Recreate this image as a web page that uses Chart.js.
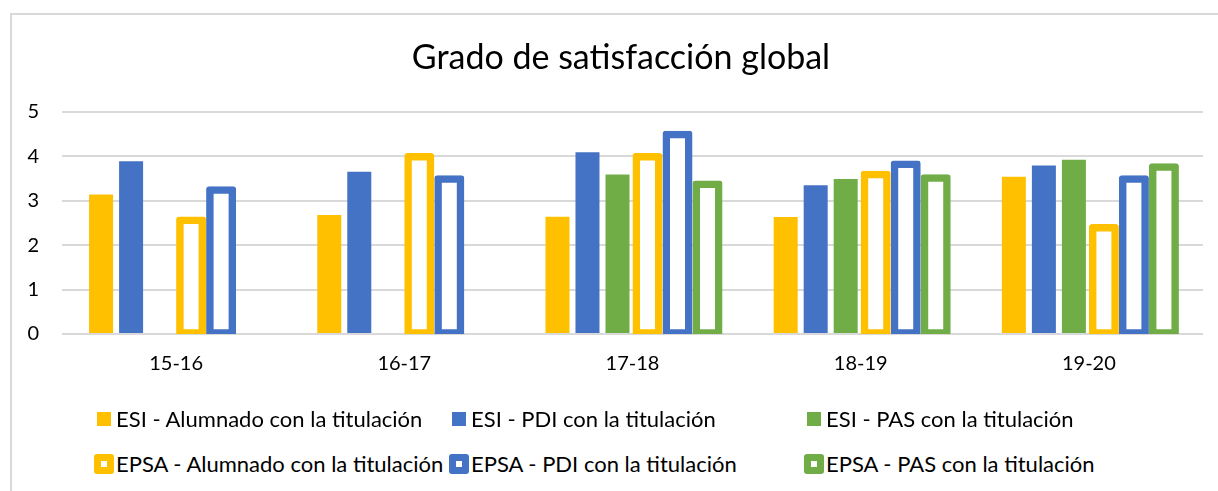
<!DOCTYPE html>
<html>
<head>
<meta charset="utf-8">
<script src="https://cdn.jsdelivr.net/npm/chart.js@4"></script>
<style>
  body { margin: 0; background: #fff; font-family: Lato, sans-serif; overflow: hidden; }
  #frame { position: absolute; left: 10px; top: 13px; width: 1230px; height: 500px;
           border-left: 2px solid #d9d9d9; border-top: 2px solid #d9d9d9; }
  #Grafico { position: absolute; left: 0; top: 0; }
  #leyenda { position: absolute; left: 93px; top: 405px; width: 1100px; }
  .item { position: absolute; display: flex; align-items: center; font-size: 22px; color: #000; white-space: nowrap; }
  .marca { width: 21px; height: 21px; display: flex; align-items: center; justify-content: center; margin-right: 2px; }
</style>
</head>
<body>
<div id="frame"></div>
<canvas id="Grafico" width="1242" height="408"></canvas>
<div id="leyenda"></div>
<script>
// datos
const cursos = ["15-16", "16-17", "17-18", "18-19", "19-20"];
const esiAlumnado = [3.14, 2.68, 2.64, 2.63, 3.54];
const esiPdi = [3.89, 3.65, 4.09, 3.35, 3.79];
const esiPas = [null, null, 3.59, 3.49, 3.92];
const epsaAlumnado = [2.56, 3.99, 3.99, 3.59, 2.39];
const epsaPdi = [3.24, 3.49, 4.49, 3.82, 3.49];
const epsaPas = [null, null, 3.37, 3.51, 3.76];
const escalaY = [0, 1, 2, 3, 4, 5];

const amarillo = "#FFC000", azul = "#4472C4", verde = "#70AD47";

function relleno(label, data, color) {
  return { label: label, data: data, backgroundColor: color, barPercentage: 0.8 };
}
function contorno(label, data, color) {
  return { label: label, data: data, backgroundColor: "#fff", borderColor: color,
           borderWidth: 7.5, inflateAmount: 3.75, borderRadius: 3, borderSkipped: false,
           barPercentage: 0.75, hueco: true };
}

const datasets = [
  relleno("ESI - Alumnado con la titulación", esiAlumnado, amarillo),
  relleno("ESI - PDI con la titulación", esiPdi, azul),
  relleno("ESI - PAS con la titulación", esiPas, verde),
  contorno("EPSA - Alumnado con la titulación", epsaAlumnado, amarillo),
  contorno("EPSA - PDI con la titulación", epsaPdi, azul),
  contorno("EPSA - PAS con la titulación", epsaPas, verde)
];

let canva = document.getElementById("Grafico").getContext("2d");
var chart = new Chart(canva, {
  type: "bar",
  data: { labels: cursos, datasets: datasets },
  options: {
    responsive: false,
    animation: false,
    layout: { padding: { left: 0, right: 0, top: 0, bottom: 14 } },
    datasets: { bar: { categoryPercentage: 0.789 } },
    plugins: {
      legend: { display: false },
      tooltip: { enabled: false },
      title: {
        display: true,
        text: "Grado de satisfacción global",
        color: "#000",
        font: { family: "Lato", size: 34, weight: "normal" },
        padding: { top: 38, bottom: 33 }
      }
    },
    scales: {
      x: {
        grid: { display: false, drawTicks: false },
        border: { display: false },
        ticks: { color: "#000", padding: 18, font: { family: "Lato", size: 20 } }
      },
      y: {
        min: escalaY[0],
        max: escalaY[escalaY.length - 1],
        afterFit: function (scale) { scale.width = 62; },
        afterBuildTicks: function (scale) { scale.ticks = escalaY.map(v => ({ value: v })); },
        grid: { color: "#d9d9d9", lineWidth: 2, drawTicks: false },
        border: { display: false },
        ticks: { color: "#000", padding: 23, font: { family: "Lato", size: 20 } }
      },
      // eje vacio a la derecha, solo para dejar el margen derecho del original
      margen: {
        position: "right",
        min: 0,
        max: 5,
        afterFit: function (scale) { scale.width = 39; },
        grid: { display: false, drawTicks: false },
        border: { display: false },
        ticks: { display: false }
      }
    }
  }
});

// leyenda en 3 columnas como en el original
const leyenda = document.getElementById("leyenda");
datasets.forEach(function (ds, i) {
  const item = document.createElement("div");
  item.className = "item";
  item.style.left = (i % 3) * 355 + "px";
  item.style.top = (Math.floor(i / 3) * 45) + "px";
  const marca = document.createElement("span");
  marca.className = "marca";
  const caja = document.createElement("span");
  if (ds.hueco) {
    caja.style.cssText = "width:6px;height:6px;background:#fff;border:7px solid " + ds.borderColor + ";border-radius:3px;";
  } else {
    caja.style.cssText = "width:14px;height:14px;background:" + ds.backgroundColor + ";";
  }
  marca.appendChild(caja);
  item.appendChild(marca);
  item.appendChild(document.createTextNode(ds.label));
  leyenda.appendChild(item);
});
</script>
</body>
</html>
